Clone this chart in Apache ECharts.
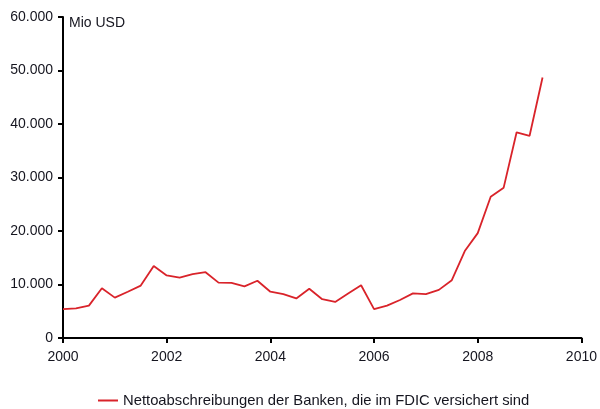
<!DOCTYPE html>
<html>
<head>
<meta charset="utf-8">
<script src="https://cdn.jsdelivr.net/npm/echarts@6/dist/echarts.min.js"></script>
<style>
  html, body { margin: 0; padding: 0; background: #fff; }
  #chart { width: 600px; height: 409px; }
</style>
</head>
<body>
<div id="chart"></div>
<script>
// Quartale 2000 Q1 .. 2009 Q2 (als Jahresbruch)
var quarters = [
  2000.00, 2000.25, 2000.50, 2000.75,
  2001.00, 2001.25, 2001.50, 2001.75,
  2002.00, 2002.25, 2002.50, 2002.75,
  2003.00, 2003.25, 2003.50, 2003.75,
  2004.00, 2004.25, 2004.50, 2004.75,
  2005.00, 2005.25, 2005.50, 2005.75,
  2006.00, 2006.25, 2006.50, 2006.75,
  2007.00, 2007.25, 2007.50, 2007.75,
  2008.00, 2008.25, 2008.50, 2008.75,
  2009.00, 2009.25
];
// Nettoabschreibungen, Mio USD
var netChargeOffs = [
  5400, 5550, 6050, 9300,
  7550, 8650, 9800, 13450,
  11700, 11300, 11950, 12300,
  10350, 10300, 9650, 10700,
  8650, 8200, 7400, 9200,
  7250, 6750, 8300, 9850,
  5400, 6050, 7100, 8350,
  8200, 9000, 10800, 16250,
  19600, 26400, 28100, 38450,
  37800, 48700
];
var seriesName = 'Nettoabschreibungen der Banken, die im FDIC versichert sind';

function fmtDE(v) {
  return String(v).replace(/\B(?=(\d{3})+(?!\d))/g, '.');
}

var chart = echarts.init(document.getElementById('chart'));
var txt = '#15151f';
var option = {
  backgroundColor: '#fff',
  animation: false,
  textStyle: { fontFamily: 'Liberation Sans, Arial, sans-serif' },
  grid: { left: 63, right: 17, top: 17, bottom: 71 },
  graphic: [{
    type: 'text', left: 69, top: 16,
    style: { text: 'Mio USD', fill: txt, font: '14px Liberation Sans, Arial, sans-serif' }
  }],
  legend: {
    top: 388, left: 93,
    itemWidth: 20, itemHeight: 10, itemGap: 6,
    icon: 'path://M0,4L20,4L20,6L0,6Z',
    textStyle: { color: txt, fontSize: 14.8 },
    data: [seriesName]
  },
  xAxis: {
    type: 'value', min: 2000, max: 2010, interval: 2,
    axisLine: { lineStyle: { color: '#000', width: 2 } },
    axisTick: { show: true, length: 5, lineStyle: { color: '#000', width: 2 } },
    axisLabel: { color: txt, fontSize: 14, margin: 12, formatter: function (v) { return String(v); } },
    splitLine: { show: false }
  },
  yAxis: {
    type: 'value', min: 0, max: 60000, interval: 10000,
    axisLine: { show: true, lineStyle: { color: '#000', width: 2 } },
    axisTick: { show: true, length: 5, lineStyle: { color: '#000', width: 2 } },
    axisLabel: { color: txt, fontSize: 14, margin: 10, formatter: fmtDE },
    splitLine: { show: false }
  },
  series: [{
    name: seriesName,
    type: 'line',
    showSymbol: false,
    color: '#d9232a',
    lineStyle: { width: 1.8, color: '#d9232a' },
    data: quarters.map(function (q, i) { return [q, netChargeOffs[i]]; })
  }]
};
chart.setOption(option);
</script>
</body>
</html>
